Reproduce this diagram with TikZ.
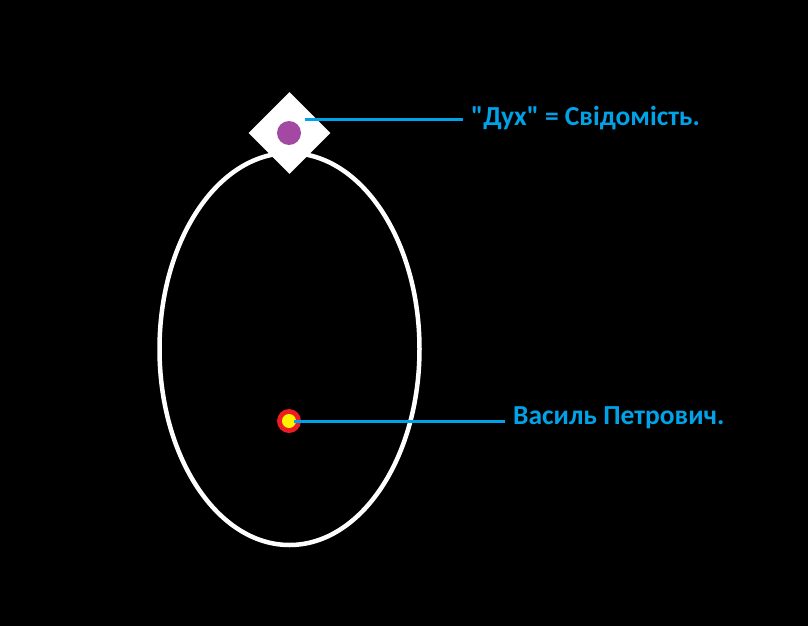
\documentclass[tikz,border=0pt]{standalone}
\usepackage{fontspec}
\newfontfamily\lblfont{Carlito}
\usetikzlibrary{shapes.geometric}
\definecolor{lblue}{HTML}{00A2E8}
\definecolor{ppurple}{HTML}{A349A4}
\definecolor{pred}{HTML}{ED1C24}
\definecolor{pyellow}{HTML}{FFF200}
\begin{document}
\begin{tikzpicture}[x=1pt,y=-1pt,
  lbl/.style={text=lblue,font=\lblfont\bfseries\fontsize{27.5}{32}\selectfont,anchor=base west,inner sep=0pt},
  pointer/.style={draw=lblue,line width=3pt}]
\useasboundingbox[fill=black] (0,0) rectangle (808,626);
\node[draw=white,line width=4.5pt,ellipse,minimum width=260pt,minimum height=392pt,inner sep=0pt] (body) at (289.5,349) {};
\node[fill=white,diamond,minimum width=82pt,minimum height=82pt,inner sep=0pt] (dia) at (289.5,133) {};
\node[fill=ppurple,circle,minimum size=24pt,inner sep=0pt] (spirit) at (289,133) {};
\node[fill=pred,circle,minimum size=24pt,inner sep=0pt] (person) at (289,421) {};
\node[fill=pyellow,circle,minimum size=14pt,inner sep=0pt] (core) at (289,421) {};
\coordinate (s1) at (305,119);
\coordinate (s2) at (294,421);
\node[lbl] (t1) at (471,125) {"Дух" = Свідомість.};
\node[lbl] (t2) at (513,424) {Василь Петрович.};
\draw[pointer] (s1) -- ([xshift=-8pt]s1 -| t1.west);
\draw[pointer] (s2) -- ([xshift=-8pt]s2 -| t2.west);
\end{tikzpicture}
\end{document}
